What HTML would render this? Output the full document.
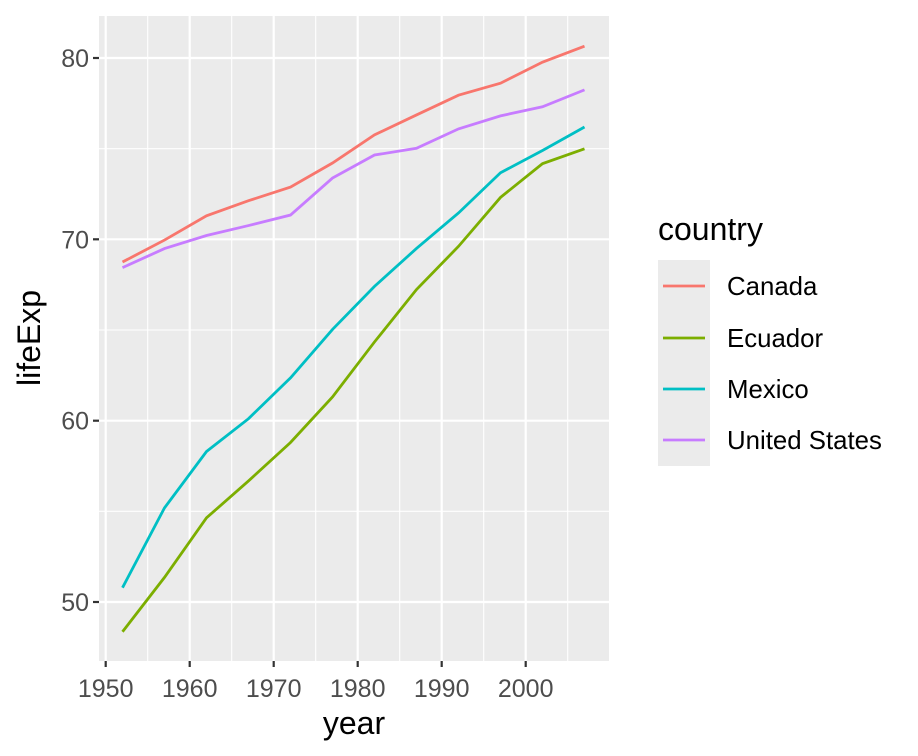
<!DOCTYPE html>
<html><head><style>body{margin:0;background:#fff}svg{display:block;font-family:"Liberation Sans",sans-serif}</style></head><body>
<svg width="918" height="756" viewBox="0 0 918 756">
<rect x="99" y="16" width="510" height="645" fill="#ebebeb"/>
<g stroke="#fff" stroke-width="1.1">
<line x1="147.7" x2="147.7" y1="16" y2="661"/><line x1="231.7" x2="231.7" y1="16" y2="661"/><line x1="315.7" x2="315.7" y1="16" y2="661"/><line x1="399.7" x2="399.7" y1="16" y2="661"/><line x1="483.7" x2="483.7" y1="16" y2="661"/><line x1="567.7" x2="567.7" y1="16" y2="661"/>
<line x1="99" x2="609" y1="511.3" y2="511.3"/><line x1="99" x2="609" y1="330" y2="330"/><line x1="99" x2="609" y1="148.7" y2="148.7"/>
</g>
<g stroke="#fff" stroke-width="2.2">
<line x1="105.7" x2="105.7" y1="16" y2="661"/><line x1="189.7" x2="189.7" y1="16" y2="661"/><line x1="273.7" x2="273.7" y1="16" y2="661"/><line x1="357.7" x2="357.7" y1="16" y2="661"/><line x1="441.7" x2="441.7" y1="16" y2="661"/><line x1="525.7" x2="525.7" y1="16" y2="661"/>
<line x1="99" x2="609" y1="602" y2="602"/><line x1="99" x2="609" y1="420.7" y2="420.7"/><line x1="99" x2="609" y1="239.3" y2="239.3"/><line x1="99" x2="609" y1="58" y2="58"/>
</g>
<g fill="none" stroke-width="2.8" transform="translate(105.7 602) scale(8.4 -18.133) translate(-1950 -50)">
<polyline vector-effect="non-scaling-stroke" stroke="#F8766D" points="1952,68.75 1957,69.96 1962,71.3 1967,72.13 1972,72.88 1977,74.21 1982,75.76 1987,76.86 1992,77.95 1997,78.61 2002,79.77 2007,80.653"/>
<polyline vector-effect="non-scaling-stroke" stroke="#7CAE00" points="1952,48.357 1957,51.356 1962,54.64 1967,56.678 1972,58.796 1977,61.31 1982,64.342 1987,67.231 1992,69.613 1997,72.312 2002,74.173 2007,74.994"/>
<polyline vector-effect="non-scaling-stroke" stroke="#00BFC4" points="1952,50.789 1957,55.19 1962,58.299 1967,60.11 1972,62.361 1977,65.032 1982,67.405 1987,69.498 1992,71.455 1997,73.67 2002,74.902 2007,76.195"/>
<polyline vector-effect="non-scaling-stroke" stroke="#C77CFF" points="1952,68.44 1957,69.49 1962,70.21 1967,70.76 1972,71.34 1977,73.38 1982,74.65 1987,75.02 1992,76.09 1997,76.81 2002,77.31 2007,78.242"/>
</g>
<g stroke="#333" stroke-width="2.2">
<line x1="93" x2="99" y1="602" y2="602"/><line x1="93" x2="99" y1="420.7" y2="420.7"/><line x1="93" x2="99" y1="239.3" y2="239.3"/><line x1="93" x2="99" y1="58" y2="58"/>
<line x1="105.7" x2="105.7" y1="661" y2="667"/><line x1="189.7" x2="189.7" y1="661" y2="667"/><line x1="273.7" x2="273.7" y1="661" y2="667"/><line x1="357.7" x2="357.7" y1="661" y2="667"/><line x1="441.7" x2="441.7" y1="661" y2="667"/><line x1="525.7" x2="525.7" y1="661" y2="667"/>
</g>
<g fill="#4d4d4d" font-size="25">
<g text-anchor="end"><text x="89" y="611">50</text><text x="89" y="429.7">60</text><text x="89" y="248.3">70</text><text x="89" y="67">80</text></g>
<g text-anchor="middle"><text x="105.7" y="697">1950</text><text x="189.7" y="697">1960</text><text x="273.7" y="697">1970</text><text x="357.7" y="697">1980</text><text x="441.7" y="697">1990</text><text x="525.7" y="697">2000</text></g>
</g>
<text x="354" y="734" font-size="32" text-anchor="middle" fill="#000">year</text>
<text transform="translate(40 338) rotate(-90)" font-size="32" text-anchor="middle" fill="#000">lifeExp</text>
<text x="658" y="240" font-size="32" fill="#000">country</text>
<rect x="658" y="260" width="52" height="206" fill="#ebebeb"/>
<g stroke-width="2.8">
<line x1="663" x2="705" y1="286" y2="286" stroke="#F8766D"/><line x1="663" x2="705" y1="338" y2="338" stroke="#7CAE00"/><line x1="663" x2="705" y1="389" y2="389" stroke="#00BFC4"/><line x1="663" x2="705" y1="440" y2="440" stroke="#C77CFF"/>
</g>
<g font-size="25.8" fill="#000"><text x="727" y="295">Canada</text><text x="727" y="347">Ecuador</text><text x="727" y="398">Mexico</text><text x="727" y="449">United States</text></g>
</svg></body></html>
